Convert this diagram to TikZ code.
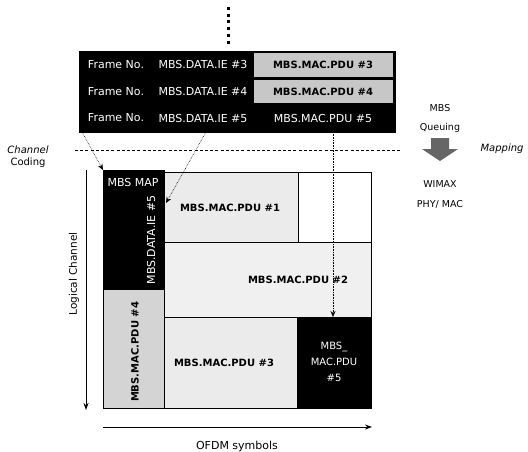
\documentclass[tikz,border=0pt]{standalone}
\usepackage{fontspec}
\setmainfont{DejaVu Sans}
\usetikzlibrary{arrows.meta,fit}
\begin{document}
\begin{tikzpicture}[x=1pt,y=-1pt,
  cell/.style={inner sep=0pt, outer sep=0pt, draw=black, line width=0.8pt},
  blk/.style={cell, fill=black},
  gcell/.style={inner sep=0pt, outer sep=0pt, fill=black!22},
  pdu/.style={cell, fill=black!8},
  wtxt/.style={text=white, font=\fontsize{11}{12}\selectfont, inner sep=0pt},
  btxt/.style={text=black, font=\fontsize{10}{12}\selectfont\bfseries, inner sep=0pt},
  ltxt/.style={text=black, font=\fontsize{9.5}{11}\selectfont, inner sep=0pt},
  conn/.style={densely dotted, line width=0.6pt, -{Stealth[length=6pt,width=5pt]}},
  axisarrow/.style={line width=1pt, -{Stealth[length=7pt,width=5pt]}}]
\useasboundingbox (0,0) rectangle (528,451);

% top dotted continuation
\coordinate (d1) at (228,7);
\coordinate (d2) at (228,45);
\draw[line width=3pt, dash pattern=on 3pt off 3.7pt] (d1) -- (d2);

% top table
\node[blk, fit={(79,51)(395,132)}] (tbl) {};
\node[gcell, fit={(254,53)(393,77)}] (g3) {};
\node[gcell, fit={(254,80)(393,103)}] (g4) {};
\foreach \y/\n in {64.5/3, 91.5/4, 118/5} {
  \node[wtxt] (fn\n) at (116,\y) {Frame No.};
  \node[wtxt] (ie\n) at (203,\y) {MBS.DATA.IE \#\n};
}
\node[btxt] (tp3) at (323,64.5) {MBS.MAC.PDU \#3};
\node[btxt] (tp4) at (323,91.5) {MBS.MAC.PDU \#4};
\node[wtxt] (tp5) at (323,118) {MBS.MAC.PDU \#5};

% separator
\coordinate (sepL) at (75,150);
\coordinate (sepR) at (402,150);
\draw[line width=0.8pt, dash pattern=on 3pt off 2.2pt] (sepL) -- (sepR);

\node[ltxt, align=center, font=\fontsize{10}{11}\selectfont] (cc) at (28,157) {\itshape Channel\\[1pt]Coding};
\node[ltxt, font=\fontsize{10}{11}\selectfont] (mp) at (502,149) {\itshape Mapping};

% right side
\node[ltxt] (mbs) at (440,108) {MBS};
\node[ltxt] (que) at (440,128) {Queuing};
\fill[black!60] (431,138) -- (449,138) -- (449,149) -- (458,149) -- (440,161) -- (422,149) -- (431,149) -- cycle;
\node[ltxt] (wmx) at (440,184) {WIMAX};
\node[ltxt] (phy) at (440,204) {PHY/ MAC};

% main grid
\node[blk, fit={(103,170)(164,289)}] (map) {};
\node[cell, fill=black!17, fit={(103,289)(164,408)}] (pdu4) {};
\node[pdu, fit={(164,172)(298,242)}] (pdu1) {};
\node[cell, fill=white, fit={(298,172)(371,242)}] (empty) {};
\node[cell, fill=black!6, fit={(164,242)(371,317)}] (pdu2) {};
\node[pdu, fit={(164,317)(297,408)}] (pdu3) {};
\node[blk, fit={(297,317)(371,408)}] (pdu5) {};

\node[wtxt, font=\fontsize{11}{12}\selectfont] (maplbl) at (133,182) {MBS MAP};
\node[wtxt, rotate=90] (ie5lbl) at (151,240) {MBS.DATA.IE \#5};
\node[btxt, rotate=90] (p4lbl) at (135,352) {MBS.MAC.PDU \#4};
\node[btxt] (p1lbl) at (230,208) {MBS.MAC.PDU \#1};
\node[btxt] (p2lbl) at (298,280) {MBS.MAC.PDU \#2};
\node[btxt] (p3lbl) at (224,363) {MBS.MAC.PDU \#3};
\node[wtxt, align=center, font=\fontsize{10}{16}\selectfont] (p5lbl) at (334,362) {MBS\_\\MAC.PDU\\\#5};

% mapping arrows
\coordinate (s1) at (82,132);
\coordinate (s2) at (206,132);
\coordinate (t2) at (166,203);
\coordinate (s3) at (333,132);
\draw[conn] (s1) -- (map.north west);
\draw[conn] (s2) -- (t2);
\draw[conn] (s3) -- (s3 |- pdu5.north);

% axes
\coordinate (ya) at (86,170);
\coordinate (yb) at (86,410);
\draw[axisarrow] (ya) -- (yb);
\node[text=black, font=\fontsize{10.5}{12}\selectfont, rotate=90, inner sep=0pt] (lc) at (74,274) {Logical Channel};
\coordinate (xa) at (103,427);
\coordinate (xb) at (372,427);
\draw[axisarrow] (xa) -- (xb);
\node[text=black, font=\fontsize{11}{12}\selectfont, inner sep=0pt] (ofdm) at (237,446) {OFDM symbols};
\end{tikzpicture}
\end{document}
